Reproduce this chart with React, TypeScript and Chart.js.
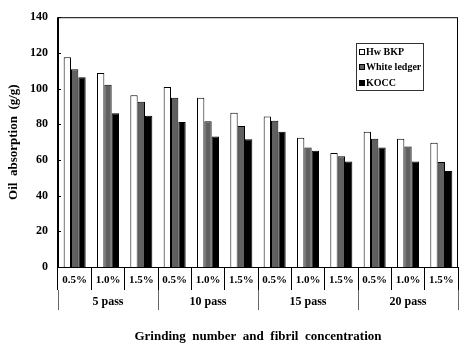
import React, { useEffect, useRef } from 'react';
import { Chart, registerables } from 'chart.js';

Chart.register(...registerables);

const concentrations = ['0.5%', '1.0%', '1.5%', '0.5%', '1.0%', '1.5%', '0.5%', '1.0%', '1.5%', '0.5%', '1.0%', '1.5%'];
const passes = ['5 pass', '10 pass', '15 pass', '20 pass'];
const seriesNames = ['Hw BKP', 'White ledger', 'KOCC'];
const hwbkp = [117.5, 108.7, 96.3, 100.9, 94.8, 86.4, 84.4, 72.5, 63.9, 75.8, 71.9, 69.7];
const whiteLedger = [110.8, 102.1, 92.6, 94.8, 81.7, 79.0, 82.0, 67.0, 62.1, 71.9, 67.5, 58.8];
const kocc = [106.3, 86.2, 84.8, 81.2, 73.2, 71.6, 75.8, 65.2, 59.1, 67.0, 59.1, 53.8];
const yMin = 0;
const yMax = 140;
const yStep = 20;
const yTitle = 'Oil  absorption  (g/g)';
const xTitle = 'Grinding  number  and  fibril  concentration';

const FONT = '"Liberation Serif", "Times New Roman", serif';

const framePlugin = {
  id: 'frame',
  afterDraw(chart: any) {
    const { ctx, chartArea } = chart;
    const { left, top, right, bottom } = chartArea;
    ctx.save();
    ctx.strokeStyle = '#000';
    ctx.lineWidth = 1;
    ctx.strokeRect(left + 0.5, top + 0.5, right - left - 1, bottom - top);
    ctx.lineWidth = 2;
    ctx.beginPath();
    ctx.moveTo(left, top);
    ctx.lineTo(left, bottom + 1);
    ctx.stroke();
    ctx.lineWidth = 1;
    const ys = chart.scales.y;
    ys.ticks.forEach((t: any) => {
      const py = Math.round(ys.getPixelForValue(t.value)) + 0.5;
      ctx.beginPath();
      ctx.moveTo(left, py);
      ctx.lineTo(left + 3, py);
      ctx.stroke();
    });
    ctx.restore();
  },
};

const legendPlugin = {
  id: 'boxLegend',
  afterDraw(chart: any) {
    const { ctx, chartArea } = chart;
    const x0 = Math.round(chartArea.right - 102);
    const y0 = Math.round(chartArea.top + 26);
    const w = 67;
    const h = 47;
    ctx.save();
    ctx.fillStyle = '#fff';
    ctx.fillRect(x0, y0, w, h);
    ctx.strokeStyle = '#333';
    ctx.lineWidth = 1;
    ctx.strokeRect(x0 + 0.5, y0 + 0.5, w, h);
    ctx.font = `bold 10px ${FONT}`;
    ctx.textBaseline = 'middle';
    ctx.textAlign = 'left';
    chart.data.datasets.forEach((ds: any, i: number) => {
      const cy = Math.round(y0 + 9 + i * 15.3);
      ctx.fillStyle = ds.backgroundColor;
      ctx.fillRect(x0 + 3, cy - 3, 5, 5);
      ctx.strokeStyle = '#000';
      ctx.strokeRect(x0 + 3.5, cy - 2.5, 5, 5);
      ctx.fillStyle = '#000';
      ctx.fillText(ds.label, x0 + 10, cy);
    });
    ctx.restore();
  },
};

export default function App() {
  const ref = useRef<HTMLCanvasElement | null>(null);

  useEffect(() => {
    if (!ref.current) return;
    const chart = new Chart(ref.current, {
      type: 'bar',
      data: {
        labels: concentrations,
        datasets: [
          { label: seriesNames[0], data: hwbkp, backgroundColor: '#ffffff', borderColor: '#000', borderWidth: 1 },
          { label: seriesNames[1], data: whiteLedger, backgroundColor: '#606060', borderColor: '#000', borderWidth: 1 },
          { label: seriesNames[2], data: kocc, backgroundColor: '#000000', borderColor: '#000', borderWidth: 1 },
        ],
      },
      options: {
        responsive: false,
        animation: false,
        datasets: { bar: { categoryPercentage: 0.66, barPercentage: 1.0 } },
        layout: { padding: { top: 12, right: 8, bottom: 0, left: 0 } },
        plugins: { legend: { display: false }, tooltip: { enabled: false } },
        scales: {
          x: {
            type: 'category',
            position: 'bottom',
            offset: true,
            grid: { display: true, offset: true, drawOnChartArea: false, drawTicks: true, tickLength: 23, color: '#000', lineWidth: 1 },
            border: { display: true, color: '#000', width: 1 },
            ticks: { color: '#000', font: { family: FONT, size: 11, weight: 'bold' }, padding: -16, autoSkip: false, maxRotation: 0, minRotation: 0 },
            afterFit: (s: any) => { s.height = 23; },
          },
          x2: {
            type: 'category',
            labels: passes,
            position: 'bottom',
            offset: true,
            grid: { display: true, offset: true, drawOnChartArea: false, drawTicks: true, tickLength: 20, color: '#666', lineWidth: 1 },
            border: { display: false },
            ticks: { color: '#000', font: { family: FONT, size: 12, weight: 'bold' }, padding: -15, autoSkip: false, maxRotation: 0, minRotation: 0 },
            title: { display: true, text: xTitle, color: '#000', font: { family: FONT, size: 13, weight: 'bold' }, padding: { top: 0, bottom: 6 } },
            afterFit: (s: any) => { s.height = 60; },
          },
          y: {
            min: yMin,
            max: yMax,
            ticks: { stepSize: yStep, color: '#000', font: { family: FONT, size: 12, weight: 'bold' }, padding: 10 },
            grid: { display: false, drawTicks: false },
            border: { display: false },
            title: { display: true, text: yTitle, color: '#000', font: { family: FONT, size: 13, weight: 'bold' }, padding: { top: 6, bottom: 0 } },
            afterFit: (s: any) => { s.width = 58; },
          },
        },
      } as any,
      plugins: [framePlugin, legendPlugin],
    });
    return () => chart.destroy();
  }, []);

  return (
    <div style={{ position: 'absolute', left: 0, top: 0, width: 466, height: 350, background: '#fff' }}>
      <canvas ref={ref} width={466} height={350} style={{ display: 'block' }} />
    </div>
  );
}
